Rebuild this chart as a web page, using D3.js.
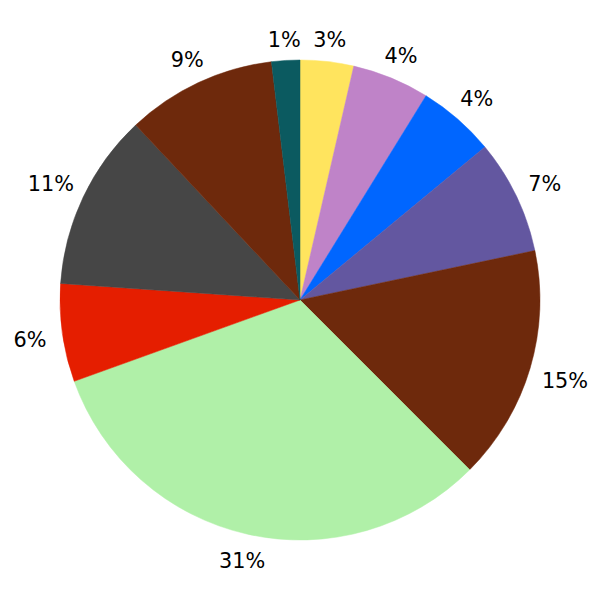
<!DOCTYPE html>
<html>
<head>
<meta charset="utf-8">
<script src="https://cdn.jsdelivr.net/npm/d3@7"></script>
<style>
  html, body { margin: 0; padding: 0; background: #fff; }
  svg { display: block; }
</style>
</head>
<body>
<svg id="chart" width="600" height="600"></svg>
<script>
const categories = ["A", "B", "C", "D", "E", "F", "G", "H", "I", "J"];
const values = [3.6, 5.2, 5.2, 7.7, 15.8, 32.0, 6.6, 11.9, 10.1, 1.9];
const labels = ["3%", "4%", "4%", "7%", "15%", "31%", "6%", "11%", "9%", "1%"];
const colors = ["#FFE45E", "#BF83C8", "#0066FF", "#6357A0", "#6E290C", "#B0F0A8", "#E51E00", "#464646", "#6E290C", "#0B5A60"];

const width = 600, height = 600;
const cx = 300, cy = 300, radius = 240;

const svg = d3.select("#chart");
const g = svg.append("g").attr("transform", `translate(${cx},${cy})`);

const pie = d3.pie().sort(null).value(d => d.value).startAngle(0).endAngle(2 * Math.PI);
const data = categories.map((c, i) => ({ cat: c, value: values[i], label: labels[i], color: colors[i] }));
const arcs = pie(data);

const arc = d3.arc().innerRadius(0).outerRadius(radius);

g.selectAll("path.slice")
  .data(arcs)
  .join("path")
  .attr("class", "slice")
  .attr("d", arc)
  .attr("fill", d => d.data.color)
  .attr("stroke", d => d.data.color)
  .attr("stroke-width", 0.5);

const texts = g.selectAll("text.lbl")
  .data(arcs)
  .join("text")
  .attr("class", "lbl")
  .attr("text-anchor", "middle")
  .attr("dominant-baseline", "central")
  .attr("dy", 2)
  .style("font-family", "'DejaVu Sans', sans-serif")
  .style("font-size", "20.8px")
  .attr("fill", "#000")
  .text(d => d.data.label);

texts.each(function(d) {
  const w = this.getBBox().width;
  const a = (d.startAngle + d.endAngle) / 2;
  const s = Math.sin(a), c = Math.cos(a);
  const dist = radius * 1.092 + 0.65 * (w / 2) * Math.abs(s);
  d3.select(this).attr("x", dist * s).attr("y", -dist * c);
});
</script>
</body>
</html>
